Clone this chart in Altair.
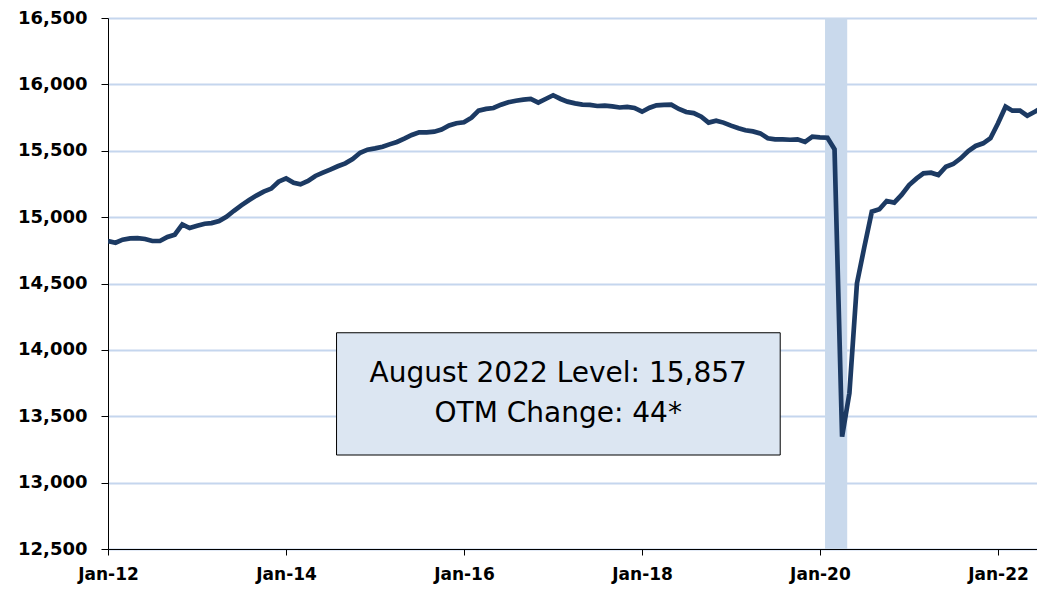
import altair as alt
import pandas as pd

# Monthly dates Jan-2012 .. Jul-2022
months = pd.date_range("2012-01-01", "2022-07-01", freq="MS").strftime("%Y-%m-%d").tolist()

levels = [
    14820, 14807, 14830, 14840, 14842, 14835, 14820, 14820, 14850, 14868, 14945, 14918,  # 2012
    14935, 14950, 14955, 14970, 15003, 15048, 15089, 15127, 15162, 15192, 15215, 15267,  # 2013
    15292, 15258, 15247, 15272, 15310, 15335, 15358, 15383, 15405, 15438, 15485, 15508,  # 2014
    15518, 15530, 15548, 15566, 15591, 15619, 15639, 15639, 15644, 15660, 15690, 15707,  # 2015
    15714, 15749, 15802, 15815, 15822, 15847, 15865, 15877, 15885, 15890, 15862, 15890,  # 2016
    15918, 15890, 15870, 15857, 15847, 15845, 15837, 15840, 15834, 15826, 15830, 15822,  # 2017
    15794, 15824, 15842, 15845, 15847, 15815, 15792, 15784, 15757, 15712, 15727, 15712,  # 2018
    15689, 15669, 15654, 15646, 15631, 15594, 15586, 15586, 15583, 15586, 15566, 15606,  # 2019
    15601, 15598, 15511, 13346, 13673, 14501, 14772, 15041, 15059, 15121, 15109, 15167,  # 2020
    15242, 15292, 15330, 15335, 15317, 15380, 15400, 15443, 15498, 15536, 15556, 15594,  # 2021
    15707, 15832, 15802, 15802, 15764, 15794, 15824,                                     # 2022
]

recession_start = ["2020-01-22"]
recession_end = ["2020-04-22"]

box_x1 = ["2014-07-27"]
box_x2 = ["2019-07-22"]
box_y1 = [14129]
box_y2 = [13208]

note_lines = ["August 2022 Level: 15,857", "OTM Change: 44*"]
note_x = ["2017-01-22", "2017-01-22"]
note_y = [13818, 13517]

y_ticks = [12500, 13000, 13500, 14000, 14500, 15000, 15500, 16000, 16500]
x_tick_years = [2012, 2014, 2016, 2018, 2020, 2022]

line_df = pd.DataFrame({"date": months, "level": levels})
band_df = pd.DataFrame({"start": recession_start, "end": recession_end})
box_df = pd.DataFrame({"x1": box_x1, "x2": box_x2, "y1": box_y1, "y2": box_y2})
note_df = pd.DataFrame({"x": note_x, "y": note_y, "label": note_lines})

x_scale = alt.Scale(
    type="utc",
    domain=[alt.DateTime(year=2012, month=1, date=1, utc=True),
            alt.DateTime(year=2022, month=6, date=10, utc=True)],
)
y_scale = alt.Scale(domain=[12500, 16500], nice=False, zero=False)

x_axis = alt.Axis(
    values=[alt.DateTime(year=y, month=1, date=1, utc=True) for y in x_tick_years],
    format="%b-%y",
    labelFont="DejaVu Sans", labelFontWeight="bold", labelFontSize=17, labelColor="#000000",
    labelPadding=11, tickSize=6, tickColor="#000000", tickWidth=1,
    domainColor="#000000", domainWidth=1, grid=False, labelFlush=False,
)
y_axis = alt.Axis(
    values=y_ticks, format=",d",
    labelFont="DejaVu Sans", labelFontWeight="bold", labelFontSize=18, labelColor="#000000",
    labelPadding=14, tickSize=7, tickColor="#000000", tickWidth=1,
    domainColor="#000000", domainWidth=1,
    grid=True, gridColor="#c5d6ee", gridWidth=2,
)

band = alt.Chart(band_df).mark_rect(color="#c9d9ec", opacity=1).encode(
    x=alt.X("start:T", scale=x_scale, axis=x_axis, title=None),
    x2="end:T",
)

line = alt.Chart(line_df).mark_line(color="#1c3a63", strokeWidth=4.7, clip=True).encode(
    x=alt.X("date:T", scale=x_scale, title=None),
    y=alt.Y("level:Q", scale=y_scale, axis=y_axis, title=None),
)

box = alt.Chart(box_df).mark_rect(fill="#dce6f2", stroke="#000000", strokeWidth=1).encode(
    x=alt.X("x1:T", scale=x_scale, title=None),
    x2="x2:T",
    y=alt.Y("y1:Q", scale=y_scale, title=None),
    y2="y2:Q",
)

note = alt.Chart(note_df).mark_text(
    font="DejaVu Sans", fontSize=28, color="#000000", align="center", baseline="middle"
).encode(
    x=alt.X("x:T", scale=x_scale, title=None),
    y=alt.Y("y:Q", scale=y_scale, title=None),
    text="label:N",
)

chart = alt.layer(band, line, box, note).properties(
    width=929,
    height=531,
    padding={"left": 100, "top": 10, "right": 0, "bottom": 40},
    autosize=alt.AutoSizeParams(type="none"),
    background="#ffffff",
).configure_view(stroke=None)

chart.save("out.html", embed_options={"renderer": "svg", "actions": False})
